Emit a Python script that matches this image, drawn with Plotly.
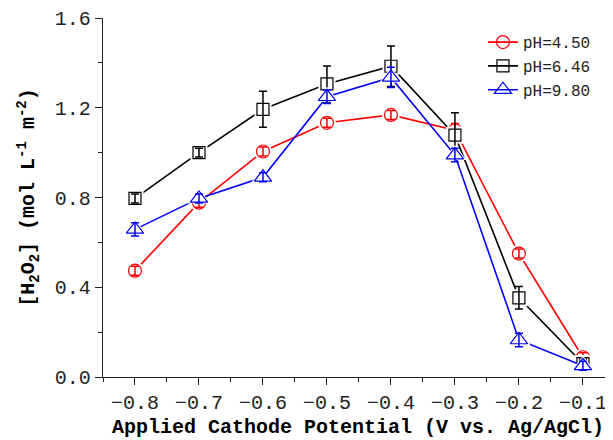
import plotly.graph_objects as go

potential = [-0.8, -0.7, -0.6, -0.5, -0.4, -0.3, -0.2, -0.1]
h2o2_ph450 = [0.474, 0.777, 1.005, 1.133, 1.168, 1.10, 0.55, 0.088]
h2o2_ph646 = [0.796, 1.00, 1.193, 1.306, 1.385, 1.078, 0.353, 0.06]
h2o2_ph980 = [0.658, 0.796, 0.89, 1.249, 1.335, 0.989, 0.165, 0.05]
err_ph450 = [0.02, 0.02, 0.02, 0.02, 0.02, 0.03, 0.02, 0.02]
err_ph646 = [0.02, 0.02, 0.08, 0.08, 0.09, 0.10, 0.05, 0.02]
err_ph980 = [0.03, 0.02, 0.02, 0.03, 0.045, 0.03, 0.03, 0.02]
series_names = ["pH=4.50", "pH=6.46", "pH=9.80"]
x_tick_vals = [-0.8, -0.7, -0.6, -0.5, -0.4, -0.3, -0.2, -0.1]
x_tick_text = ["\u22120.8", "\u22120.7", "\u22120.6", "\u22120.5", "\u22120.4", "\u22120.3", "\u22120.2", "\u22120.1"]
y_tick_vals = [0.0, 0.4, 0.8, 1.2, 1.6]
y_tick_text = ["0.0", "0.4", "0.8", "1.2", "1.6"]

styles = [
    ("red", "circle-open", 13),
    ("black", "square-open", 12),
    ("blue", "triangle-up-open", 15),
]
cover_symbols = ["circle", "square", "triangle-up"]

fig = go.Figure()
for name, ys, errs, (col, sym, sz), csym in zip(
        series_names, [h2o2_ph450, h2o2_ph646, h2o2_ph980],
        [err_ph450, err_ph646, err_ph980], styles, cover_symbols):
    fig.add_trace(go.Scatter(
        x=potential, y=ys, mode="lines+markers", name=name,
        line=dict(color=col, width=1.6),
        marker=dict(symbol=sym, size=sz, color=col, line=dict(width=1.2)),
        cliponaxis=False,
    ))
    fig.add_trace(go.Scatter(
        x=potential, y=ys, mode="markers", showlegend=False, hoverinfo="skip",
        marker=dict(symbol=csym, size=sz + 5, color="white", line=dict(width=0)),
        cliponaxis=False,
    ))
    fig.add_trace(go.Scatter(
        x=potential, y=ys, mode="markers", showlegend=False,
        marker=dict(symbol=sym, size=sz, color=col, line=dict(width=1.2)),
        error_y=dict(type="data", array=errs, visible=True, color=col,
                     thickness=1.5, width=4),
        cliponaxis=False,
    ))

mono = "Liberation Mono"
fig.update_layout(
    width=605, height=432,
    margin=dict(l=95, r=0, t=10, b=63),
    paper_bgcolor="white", plot_bgcolor="white",
    showlegend=True,
    legend=dict(x=0.745, y=0.98, xanchor="left", yanchor="top",
                font=dict(family=mono, size=16, color="#222"),
                bgcolor="rgba(0,0,0,0)", tracegroupgap=0, itemwidth=30),
    xaxis=dict(
        range=[-0.85, -0.053], showgrid=False, zeroline=False,
        showline=True, linecolor="#222", linewidth=1.3,
        tickmode="array", tickvals=x_tick_vals, ticktext=x_tick_text,
        ticks="outside", ticklen=7, tickwidth=1.3, tickcolor="#222",
        minor=dict(dtick=0.05, tick0=-0.85, ticks="outside", ticklen=4,
                   tickwidth=1.3, tickcolor="#222"),
        tickfont=dict(family=mono, size=20, color="#222"),
        title=dict(text="<b>Applied Cathode Potential (V vs. Ag/AgCl)</b>",
                   font=dict(family=mono, size=20, color="black"), standoff=4),
    ),
    yaxis=dict(
        range=[0, 1.6], showgrid=False, zeroline=False,
        showline=True, linecolor="#222", linewidth=1.3,
        tickmode="array", tickvals=y_tick_vals, ticktext=y_tick_text,
        ticks="outside", ticklen=7, tickwidth=1.3, tickcolor="#222",
        minor=dict(dtick=0.2, tick0=0, ticks="outside", ticklen=4,
                   tickwidth=1.3, tickcolor="#222"),
        tickfont=dict(family=mono, size=20, color="#222"),
        title=dict(text="<b>[H<sub>2</sub>O<sub>2</sub>] (mol L<sup>-1</sup> m<sup>-2</sup>)</b>",
                   font=dict(family=mono, size=20, color="black"), standoff=14),
    ),
)

fig.write_html("out.html")
